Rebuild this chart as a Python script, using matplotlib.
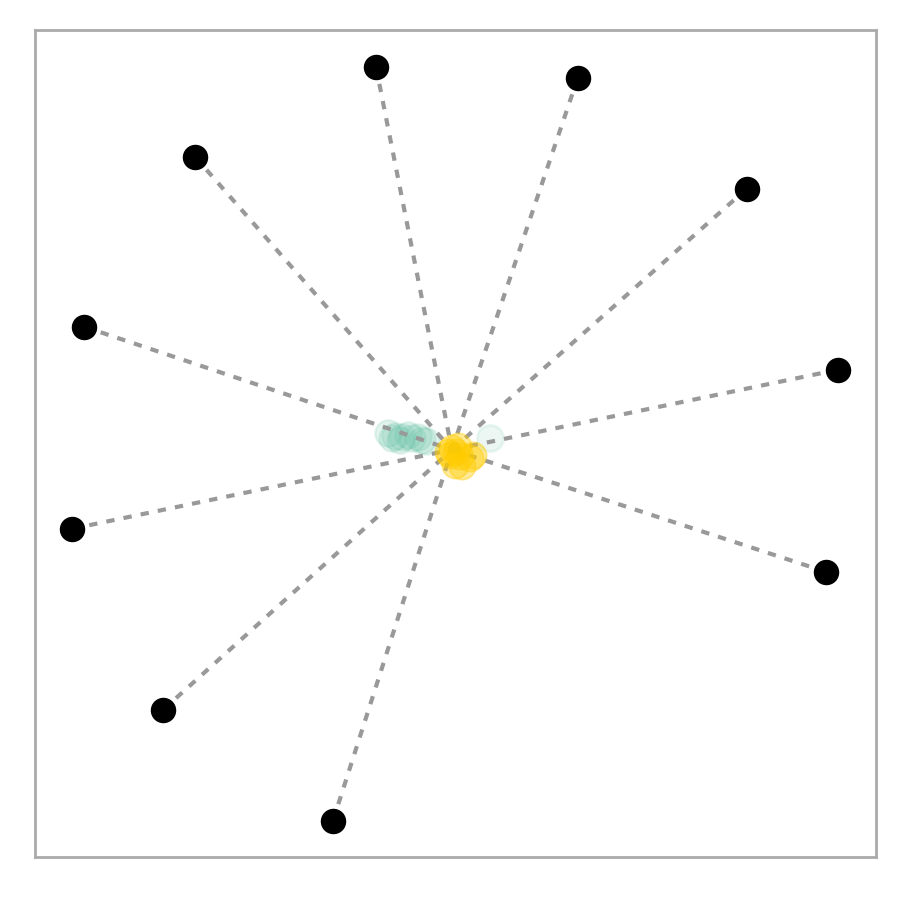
import numpy as np
import matplotlib.pyplot as plt

# anchor points (feature positions)
anchor_x = np.array([-0.20, 0.305, 0.7275, 0.955, 0.925, -0.3075, -0.7325, -0.96, -0.93, -0.6525])
anchor_y = np.array([0.9625, 0.935, 0.6575, 0.205, -0.30, -0.9225, -0.645, -0.1925, 0.3125, 0.7375])

# where the dotted lines meet
center_x, center_y = -0.01, 0.005

# class A (green)
green_x = np.array([-0.17, -0.1525, -0.135, -0.12, -0.11, -0.095, -0.085, -0.075, -0.14, -0.16])
green_y = np.array([0.0475, 0.04, 0.0375, 0.0425, 0.035, 0.0375, 0.03, 0.0275, 0.03, 0.035])
lone_x, lone_y = [0.085], [0.035]

# class B (yellow)
yellow_x = np.array([-0.01, 0.0, 0.005, -0.015, 0.01, 0.035, 0.0425, 0.015, -0.0025, -0.02])
yellow_y = np.array([0.01, 0.0, 0.015, -0.0075, -0.01, -0.015, -0.0075, -0.035, -0.0325, 0.0])

fig = plt.figure(figsize=(9, 9), dpi=100)
ax = fig.add_axes([0.039, 0.048, 0.934, 0.919])

green = "#66c2a5"
ax.scatter(green_x, green_y, s=360, color=green, alpha=0.18, edgecolors=green, linewidths=1.5, zorder=1)
ax.scatter(lone_x, lone_y, s=360, color=green, alpha=0.12, edgecolors=green, linewidths=2, zorder=1)

for x, y in zip(anchor_x, anchor_y):
    ax.plot([x, center_x], [y, center_y], color="#999999", lw=3, linestyle=(0, (2, 2.2)), zorder=2)

ax.scatter(yellow_x, yellow_y, s=360, color="#ffcc00", alpha=0.4, edgecolors="#ffcc00", linewidths=1.2, zorder=3)
ax.scatter(anchor_x, anchor_y, s=300, color="black", zorder=4)

ax.set_xlim(-1.0525, 1.05)
ax.set_ylim(-1.0125, 1.055)
ax.set_xticks([])
ax.set_yticks([])
for sp in ax.spines.values():
    sp.set_color("#aaaaaa")
    sp.set_linewidth(2)

plt.savefig("out.png")
